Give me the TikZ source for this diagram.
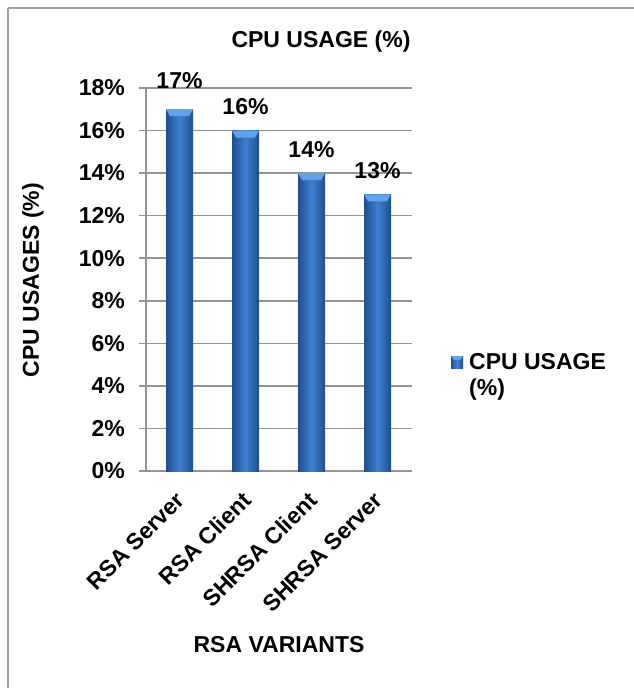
\documentclass[tikz,border=0pt]{standalone}
\usepackage{fontspec}
\setmainfont{Liberation Sans}
\begin{document}
\begin{tikzpicture}[x=1pt,y=-1pt,
  lbl/.style={font=\fontsize{23}{27}\selectfont\bfseries, inner sep=0pt},
  grid/.style={draw=gray!85, line width=1.5pt},
  frame/.style={draw=gray!75, line width=2pt},
  barshade/.style={left color=barDark, right color=barDark, middle color=barMid}
]
\definecolor{barDark}{HTML}{1F4E8E}
\definecolor{barMid}{HTML}{3F80D2}
\definecolor{barTop}{HTML}{62A2EC}
\useasboundingbox (0,0) rectangle (634,688);
\fill[white] (0,0) rectangle (634,688);
% frame
\draw[frame] (8,8) -- (634,8);
\draw[frame] (8,8) -- (8,688);
% title
\node[lbl] (title) at (321,42) {CPU USAGE (\%)};
% gridlines and ticks
\foreach \k in {0,...,9}{
  \pgfmathsetmacro{\yy}{471-\k*42.56}
  \draw[grid] (139,\yy) -- (412,\yy);
  \pgfmathtruncatemacro{\pc}{2*\k}
  \node[lbl, anchor=east] (tick\k) at (125,\yy) {\pc\%};
}
\draw[grid] (146,471) -- (146,88);
% bars
\foreach \i/\v/\ly in {1/17/81, 2/16/107, 3/14/150, 4/13/171}{
  \pgfmathsetmacro{\xa}{166+(\i-1)*66}
  \pgfmathsetmacro{\xb}{\xa+27}
  \pgfmathsetmacro{\xc}{\xa+13.5}
  \pgfmathsetmacro{\yt}{471-\v*21.28}
  \shade[barshade] (\xa,471) rectangle (\xb,\yt);
  \fill[barTop] (\xa,\yt) -- (\xb,\yt) -- (\xb-4,\yt+7) -- (\xa+4,\yt+7) -- cycle;
  \node[lbl] (val\i) at (\xc,\ly) {\v\%};
}
% category labels
\node[lbl, rotate=45, anchor=north east] (c1) at (175,490) {RSA Server};
\node[lbl, rotate=45, anchor=north east] (c2) at (241,490) {RSA Client};
\node[lbl, rotate=45, anchor=north east] (c3) at (307,490) {SHRSA Client};
\node[lbl, rotate=45, anchor=north east] (c4) at (373,490) {SHRSA Server};
% axis titles
\node[lbl, rotate=90] (ytitle) at (33,280) {CPU USAGES (\%)};
\node[lbl] (xtitle) at (279,645) {RSA VARIANTS};
% legend
\shade[barshade] (451,356) rectangle (463,368);
\fill[barTop] (451,356) -- (463,356) -- (460,360) -- (454,360) -- cycle;
\node[lbl, anchor=west] (leg1) at (469,362) {CPU USAGE};
\node[lbl, anchor=west] (leg2) at (469,390) {(\%)};
\end{tikzpicture}
\end{document}
